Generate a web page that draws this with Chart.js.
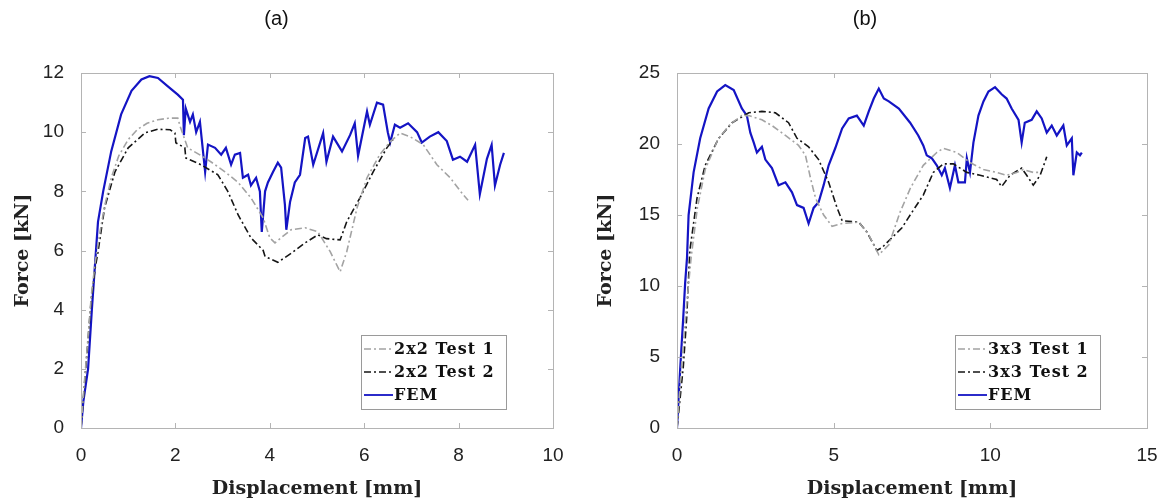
<!DOCTYPE html>
<html><head><meta charset="utf-8">
<script src="https://cdn.jsdelivr.net/npm/chart.js@4.4.1/dist/chart.umd.min.js"></script>
<style>
html,body{margin:0;padding:0;background:#fff;}
#wrap{position:relative;width:1166px;height:500px;overflow:hidden;}
.c{position:absolute;top:0;width:583px;height:500px;}
</style></head><body>
<div id="wrap">
<div class="c" style="left:0"><canvas id="ca" width="583" height="500"></canvas></div>
<div class="c" style="left:583px"><canvas id="cb" width="583" height="500"></canvas></div>
</div>
<script>
// ---------- Panel (a): 2x2 ----------
const titleA = '(a)';
const legendA = ['2x2 Test 1', '2x2 Test 2', 'FEM'];
const xTicksA = [0, 2, 4, 6, 8, 10];
const yTicksA = [0, 2, 4, 6, 8, 10, 12];

const a_test1_x = [0,0.07,0.15,0.22,0.3,0.4,0.5,0.65,0.8,1.0,1.2,1.4,1.63,1.85,2.05,2.1,2.26,2.5,2.75,3.05,3.33,3.6,3.86,4.0,4.11,4.24,4.45,4.75,5.02,5.28,5.49,5.63,5.85,6.06,6.33,6.55,6.76,6.97,7.25,7.54,7.82,8.1,8.2];
const a_test1_y = [0,1.5,3.1,4.5,5.6,6.6,7.5,8.5,9.2,9.75,10.1,10.3,10.42,10.47,10.48,10.2,9.47,9.25,9.0,8.66,8.3,7.78,7.1,6.43,6.26,6.43,6.7,6.77,6.63,5.96,5.28,5.96,7.45,8.46,9.24,9.68,9.97,9.85,9.58,8.9,8.46,7.88,7.7];

const a_test2_x = [0,0.07,0.15,0.22,0.3,0.36,0.5,0.72,1.0,1.36,1.63,1.89,1.99,2.01,2.2,2.22,2.54,2.9,3.11,3.33,3.6,3.86,3.9,4.17,4.45,4.75,5.02,5.2,5.49,5.63,5.91,6.19,6.48,6.61];
const a_test2_y = [0,1.4,3.0,4.4,5.4,5.95,7.45,8.66,9.47,9.98,10.1,10.08,9.97,9.64,9.47,9.13,8.9,8.56,8.0,7.2,6.43,6.0,5.8,5.6,5.9,6.26,6.53,6.4,6.36,6.97,7.78,8.66,9.47,9.75];

const a_fem_x = [0,0.05,0.15,0.23,0.3,0.36,0.47,0.64,0.85,1.07,1.28,1.45,1.63,1.84,2.05,2.16,2.18,2.22,2.31,2.37,2.44,2.52,2.63,2.69,2.84,2.97,3.07,3.18,3.26,3.37,3.43,3.54,3.6,3.71,3.79,3.83,3.9,3.96,4.07,4.17,4.24,4.32,4.35,4.43,4.53,4.64,4.75,4.81,4.92,5.13,5.2,5.34,5.53,5.7,5.8,5.87,6.06,6.12,6.27,6.4,6.5,6.55,6.65,6.76,6.93,7.12,7.22,7.39,7.57,7.75,7.88,8.03,8.18,8.35,8.45,8.6,8.7,8.77,8.88,8.96];
const a_fem_y = [0,0.9,2.0,4.0,5.6,6.97,8.0,9.35,10.6,11.4,11.78,11.89,11.83,11.55,11.27,11.1,9.9,10.8,10.35,10.6,10.0,10.35,8.66,9.58,9.47,9.24,9.47,8.9,9.24,9.3,8.46,8.56,8.2,8.46,8.0,6.63,8.0,8.3,8.66,8.97,8.8,7.55,6.7,7.65,8.3,8.56,9.8,9.85,8.9,9.97,9.0,9.85,9.35,9.9,10.3,9.2,10.7,10.25,11.0,10.93,10.0,9.65,10.25,10.15,10.3,10.0,9.65,9.85,10.0,9.7,9.07,9.17,9.0,9.57,7.9,9.1,9.57,8.2,8.9,9.3];

// ---------- Panel (b): 3x3 ----------
const titleB = '(b)';
const legendB = ['3x3 Test 1', '3x3 Test 2', 'FEM'];
const xTicksB = [0, 5, 10, 15];
const yTicksB = [0, 5, 10, 15, 20, 25];

const b_test1_x = [0,0.05,0.15,0.3,0.45,0.65,0.9,1.3,1.7,2.07,2.29,2.71,3.03,3.46,3.88,4.1,4.26,4.42,4.68,4.95,5.27,5.8,6.12,6.44,6.76,7.12,7.45,7.86,8.29,8.5,8.93,9.35,9.78,10.2,10.52,10.84,11.05,11.37,11.59];
const b_test1_y = [0,1.5,4.5,8.5,12.0,15.5,18.2,20.3,21.4,22.0,22.0,21.7,21.3,20.6,19.9,19.2,17.6,16.2,15.0,14.2,14.4,14.5,13.6,12.2,12.9,15.2,16.9,18.5,19.4,19.7,19.4,18.7,18.2,18.0,17.8,18.0,18.2,18.0,18.0];

const b_test2_x = [0,0.04,0.2,0.31,0.41,0.64,0.9,1.33,1.76,2.29,2.71,3.14,3.56,3.83,4.2,4.52,4.84,5.11,5.27,5.8,6.06,6.38,6.54,6.86,7.18,7.5,7.86,8.18,8.5,8.82,9.25,9.67,10.2,10.36,10.63,11.0,11.16,11.37,11.59,11.8];
const b_test2_y = [0,0.8,4.3,7.8,12.5,16.2,18.5,20.4,21.5,22.2,22.3,22.2,21.5,20.4,19.8,18.9,17.3,15.5,14.6,14.5,13.8,12.5,12.7,13.4,14.1,15.2,16.4,18.0,18.6,18.6,18.0,17.8,17.5,17.0,17.8,18.3,17.8,17.1,17.8,19.1];

const b_fem_x = [0,0.1,0.2,0.26,0.32,0.37,0.53,0.74,1.01,1.28,1.54,1.81,2.07,2.23,2.34,2.45,2.55,2.71,2.82,3.03,3.24,3.46,3.67,3.83,4.04,4.2,4.36,4.52,4.68,4.84,5.05,5.27,5.48,5.74,5.96,6.12,6.28,6.44,6.6,6.76,7.08,7.44,7.7,7.86,7.97,8.13,8.29,8.45,8.55,8.71,8.87,8.98,9.19,9.25,9.35,9.46,9.62,9.78,9.94,10.15,10.36,10.52,10.68,10.9,11.0,11.1,11.32,11.48,11.64,11.8,11.96,12.12,12.33,12.44,12.6,12.65,12.76,12.86,12.92];
const b_fem_y = [0,4.1,7.8,10.2,12.0,15.0,18.0,20.4,22.5,23.7,24.15,23.8,22.5,22.0,20.8,20.1,19.4,19.8,18.9,18.3,17.1,17.3,16.6,15.7,15.5,14.4,15.5,15.9,17.1,18.5,19.7,21.1,21.8,22.0,21.3,22.3,23.2,23.9,23.2,23.0,22.5,21.5,20.6,19.9,19.2,19.0,18.5,17.8,18.3,16.9,18.5,17.3,17.3,19.0,18.0,20.1,22.0,23.0,23.7,24.0,23.5,23.2,22.5,21.7,20.1,21.5,21.7,22.3,21.8,20.8,21.3,20.6,21.3,19.9,20.4,17.8,19.4,19.2,19.4];

// ---------- helpers ----------
const pts = (xs, ys) => xs.map((x, i) => ({x: x, y: ys[i]}));
const TICK_FONT = {family: "'Liberation Sans', Arial, sans-serif", size: 19};
const TITLE_FONT = {family: "'DejaVu Serif', serif", size: 19, weight: 'bold'};
const LEG_FONT = "bold 16px 'DejaVu Serif', serif";
const INK = '#222';

const styles = [
  {color: '#a3a3a3', width: 1.6, dash: [7, 3, 2, 3]},
  {color: '#151515', width: 1.6, dash: [7, 3, 2, 3]},
  {color: '#1414c4', width: 2.2, dash: []}
];

const framePlugin = {
  id: 'frame',
  afterDraw(chart) {
    const ctx = chart.ctx, a = chart.chartArea;
    const xs = chart.scales.x, ys = chart.scales.y;
    ctx.save();
    ctx.strokeStyle = '#b4b4b4';
    ctx.lineWidth = 1;
    ctx.strokeRect(a.left + 0.5, a.top + 0.5, a.right - a.left, a.bottom - a.top);
    ctx.beginPath();
    xs.ticks.forEach(t => {
      const p = Math.round(xs.getPixelForValue(t.value)) + 0.5;
      ctx.moveTo(p, a.bottom); ctx.lineTo(p, a.bottom - 5);
      ctx.moveTo(p, a.top); ctx.lineTo(p, a.top + 5);
    });
    ys.ticks.forEach(t => {
      const p = Math.round(ys.getPixelForValue(t.value)) + 0.5;
      ctx.moveTo(a.left, p); ctx.lineTo(a.left + 5, p);
      ctx.moveTo(a.right, p); ctx.lineTo(a.right - 5, p);
    });
    ctx.stroke();

    // legend box (bottom-right inside the axes)
    const labels = chart.options.plugins.boxLegend.labels;
    const bw = 145, bh = 74;
    const bx = a.right - 47 - bw, by = a.bottom - 19 - bh;
    ctx.fillStyle = '#ffffff';
    ctx.fillRect(bx, by, bw, bh);
    ctx.strokeStyle = '#9a9a9a';
    ctx.strokeRect(bx + 0.5, by + 0.5, bw, bh);
    ctx.font = LEG_FONT;
    try { ctx.letterSpacing = '1px'; } catch (e) {}
    ctx.textBaseline = 'middle';
    ctx.textAlign = 'left';
    labels.forEach((lab, i) => {
      const ds = chart.data.datasets[i];
      const cy = by + 14 + i * 23;
      ctx.beginPath();
      ctx.setLineDash(ds.borderDash || []);
      ctx.strokeStyle = ds.borderColor;
      ctx.lineWidth = Math.min(ds.borderWidth, 1.8);
      ctx.moveTo(bx + 3, cy); ctx.lineTo(bx + 32, cy);
      ctx.stroke();
      ctx.setLineDash([]);
      ctx.fillStyle = '#111';
      ctx.fillText(lab, bx + 33, cy + 1);
    });
    try { ctx.letterSpacing = '0px'; } catch (e) {}
    ctx.restore();
  }
};

function makeChart(id, title, legend, series, xMax, xStep, yMax, yStep, yWidth, padRight) {
  const datasets = series.map((s, i) => ({
    label: legend[i],
    data: s,
    borderColor: styles[i].color,
    borderWidth: styles[i].width,
    borderDash: styles[i].dash,
    pointRadius: 0,
    tension: 0,
    fill: false
  }));
  return new Chart(document.getElementById(id), {
    type: 'line',
    data: {datasets: datasets},
    options: {
      responsive: false,
      animation: false,
      devicePixelRatio: 1,
      layout: {padding: {left: 0, right: padRight, top: 0, bottom: 0}},
      plugins: {
        legend: {display: false},
        tooltip: {enabled: false},
        title: {display: true, text: title, color: '#111',
          font: {family: "'Liberation Sans', Arial, sans-serif", size: 20, weight: 'normal'},
          padding: {top: 7, bottom: 42}},
        boxLegend: {labels: legend}
      },
      scales: {
        x: {type: 'linear', min: 0, max: xMax,
          ticks: {stepSize: xStep, font: TICK_FONT, color: INK, padding: 8, maxRotation: 0},
          grid: {display: false}, border: {display: false},
          title: {display: true, text: 'Displacement [mm]', font: TITLE_FONT, color: INK, padding: {top: 2, bottom: 0}},
          afterFit(s) { s.height = 72; }
        },
        y: {type: 'linear', min: 0, max: yMax,
          ticks: {stepSize: yStep, font: TICK_FONT, color: INK, padding: 9},
          grid: {display: false}, border: {display: false},
          title: {display: true, text: 'Force [kN]', font: TITLE_FONT, color: INK, padding: {top: 12, bottom: 0}},
          afterFit(s) { s.width = yWidth; }
        }
      }
    },
    plugins: [framePlugin]
  });
}

makeChart('ca', titleA, legendA,
  [pts(a_test1_x, a_test1_y), pts(a_test2_x, a_test2_y), pts(a_fem_x, a_fem_y)],
  xTicksA[xTicksA.length - 1], xTicksA[1] - xTicksA[0],
  yTicksA[yTicksA.length - 1], yTicksA[1] - yTicksA[0], 81, 30);

makeChart('cb', titleB, legendB,
  [pts(b_test1_x, b_test1_y), pts(b_test2_x, b_test2_y), pts(b_fem_x, b_fem_y)],
  xTicksB[xTicksB.length - 1], xTicksB[1] - xTicksB[0],
  yTicksB[yTicksB.length - 1], yTicksB[1] - yTicksB[0], 94, 19);
</script>
</body></html>
